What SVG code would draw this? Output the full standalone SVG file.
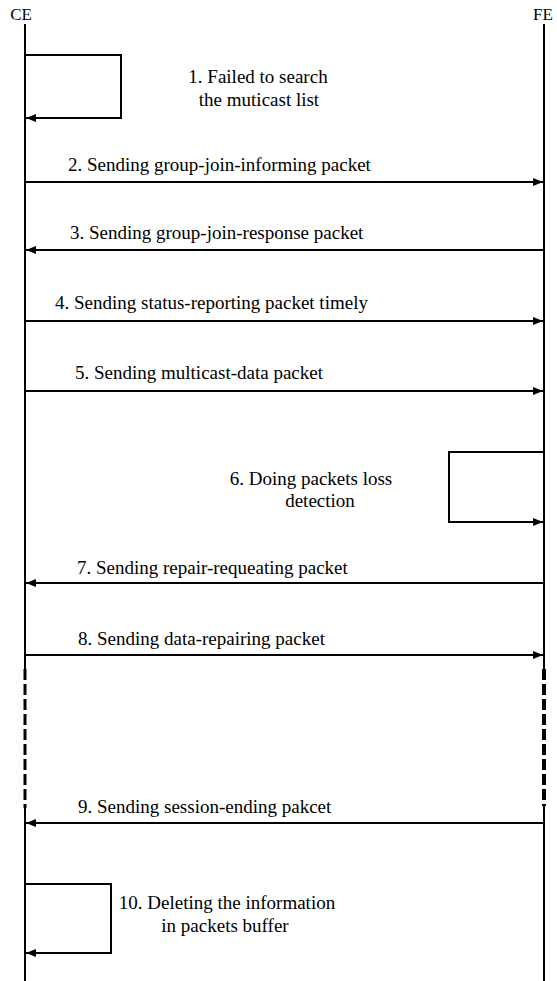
<svg xmlns="http://www.w3.org/2000/svg" width="557" height="981" viewBox="0 0 557 981">
  <style>
    .life { stroke: #000; stroke-width: 2; fill: none; }
    .dash { stroke: #000; stroke-width: 3; stroke-dasharray: 11 4; fill: none; }
    .dash-fe { stroke-width: 4; }
    .msg { stroke: #000; stroke-width: 2; fill: none; }
    text { font-family: "Liberation Serif", "Times New Roman", serif; fill: #000; }
    .lbl { font-size: 19px; }
    .head { font-size: 17px; }
  </style>
  <defs>
    <marker id="arrow" viewBox="0 0 10 10" refX="10" refY="5" markerWidth="10" markerHeight="10" markerUnits="userSpaceOnUse" orient="auto">
      <path d="M0,1 L10,5 L0,9 Z" fill="#000"/>
    </marker>
  </defs>

  <!-- lifelines -->
  <g id="ce">
    <text class="head" x="21" y="20" text-anchor="middle">CE</text>
    <line class="life" x1="25" y1="24" x2="25" y2="669"/>
    <line class="dash" x1="25" y1="669" x2="25" y2="808"/>
    <line class="life" x1="25" y1="808" x2="25" y2="981"/>
  </g>
  <g id="fe">
    <text class="head" x="543" y="20" text-anchor="middle">FE</text>
    <line class="life" x1="544" y1="24" x2="544" y2="669"/>
    <line class="dash dash-fe" x1="544" y1="669" x2="544" y2="806"/>
    <line class="life" x1="544" y1="806" x2="544" y2="981"/>
  </g>

  <!-- messages and self-loops -->
  <g id="connectors">
    <path class="msg" d="M25,55 H121 V118 H26" marker-end="url(#arrow)"/>
    <line class="msg" x1="25" y1="182" x2="543" y2="182" marker-end="url(#arrow)"/>
    <line class="msg" x1="544" y1="250" x2="26" y2="250" marker-end="url(#arrow)"/>
    <line class="msg" x1="25" y1="321" x2="543" y2="321" marker-end="url(#arrow)"/>
    <line class="msg" x1="25" y1="391" x2="543" y2="391" marker-end="url(#arrow)"/>
    <path class="msg" d="M544,452 H449 V522 H543" marker-end="url(#arrow)"/>
    <line class="msg" x1="544" y1="583" x2="26" y2="583" marker-end="url(#arrow)"/>
    <line class="msg" x1="25" y1="655" x2="543" y2="655" marker-end="url(#arrow)"/>
    <line class="msg" x1="544" y1="823" x2="26" y2="823" marker-end="url(#arrow)"/>
    <path class="msg" d="M25,884 H111 V953 H26" marker-end="url(#arrow)"/>
  </g>

  <!-- labels -->
  <g id="step1">
    <text class="lbl" x="258" y="83" text-anchor="middle" font-size="20">1. Failed to search</text>
    <text class="lbl" x="259" y="106" text-anchor="middle" font-size="20">the muticast list</text>
  </g>
  <g id="step2"><text class="lbl" x="68" y="171" font-size="19.8">2. Sending group-join-informing packet</text></g>
  <g id="step3"><text class="lbl" x="70" y="239" font-size="18.5">3. Sending group-join-response packet</text></g>
  <g id="step4"><text class="lbl" x="55" y="309" font-size="20.8">4. Sending status-reporting packet timely</text></g>
  <g id="step5"><text class="lbl" x="75" y="379" font-size="20.2">5. Sending multicast-data packet</text></g>
  <g id="step6">
    <text class="lbl" x="311" y="485" text-anchor="middle" font-size="18.8">6. Doing packets loss</text>
    <text class="lbl" x="320" y="507" text-anchor="middle" font-size="18.8">detection</text>
  </g>
  <g id="step7"><text class="lbl" x="77" y="574" font-size="18.3">7. Sending repair-requeating packet</text></g>
  <g id="step8"><text class="lbl" x="78" y="645" font-size="18.2">8. Sending data-repairing packet</text></g>
  <g id="step9"><text class="lbl" x="78" y="813" font-size="19.4">9. Sending session-ending pakcet</text></g>
  <g id="step10">
    <text class="lbl" x="227" y="909" text-anchor="middle" font-size="18.8">10. Deleting the information</text>
    <text class="lbl" x="225" y="932" text-anchor="middle" font-size="18.8">in packets buffer</text>
  </g>
</svg>
